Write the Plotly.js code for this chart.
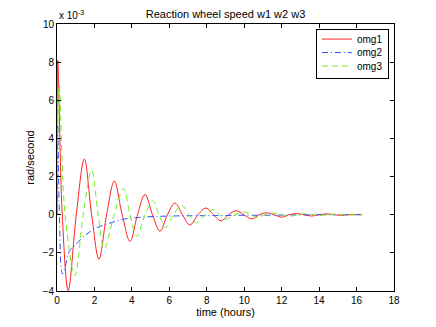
<!DOCTYPE html>
<html>
<head>
<meta charset="utf-8">
<script src="https://cdn.plot.ly/plotly-3.0.1.min.js"></script>
<style>
  html, body { margin: 0; padding: 0; background: #fff; }
  #plot { width: 436px; height: 327px; }
</style>
</head>
<body>
<div id="plot"></div>
<script>
// values, y in units of 1e-3 rad/s
var t1 = [0, 0.04, 0.28, 0.6, 1.03, 1.46, 1.85, 2.24, 2.65, 3.06, 3.48, 3.9, 4.3, 4.7,
  5.1, 5.5, 5.9, 6.3, 6.7, 7.1, 7.53, 7.96, 8.36, 8.76, 9.16, 9.56, 9.98, 10.4,
  10.8, 11.2, 11.6, 12.0, 12.4, 12.8, 13.2, 13.6, 14.0, 14.4, 14.8, 15.2, 15.6, 16.0, 16.3];
var omg1 = [0, 8.1, 0, -3.98, 0, 2.92, 0, -2.33, 0, 1.76, 0, -1.4, 0, 1.06,
  0, -0.86, 0, 0.61, 0, -0.54, 0, 0.35, 0, -0.32, 0, 0.21, 0, -0.22,
  0, 0.1, 0, -0.13, 0, 0.06, 0, -0.07, 0, 0.04, 0, -0.03, 0, 0.01, 0];

var t2 = [0, 0.04, 0.13, 0.3, 0.69, 0.96, 1.5, 2.03, 2.74, 3.54, 4.7, 6.0, 8.0, 10.0, 12.0, 14.0, 16.3];
var omg2 = [0, 4.7, 0, -3.1, -1.87, -1.61, -1.08, -0.73, -0.47, -0.24, -0.12, -0.07, -0.05, -0.03, -0.02, 0, 0];

var t3 = [0, 0.12, 0.43, 0.96, 1.4, 1.85, 2.2, 2.53, 3.05, 3.55, 3.9, 4.26, 4.7, 5.12,
  5.45, 5.8, 6.22, 6.66, 7.05, 7.46, 7.9, 8.35, 8.67, 8.98, 9.5, 10.04, 10.36, 10.7,
  11.1, 11.55, 12.0, 12.45, 12.85, 13.25, 13.65, 14.05, 14.5, 14.9, 15.3, 15.7, 16.3];
var omg3 = [0, 6.8, 0, -3.19, 0, 2.34, 0, -1.78, 0, 1.37, 0, -1.13, 0, 0.72,
  0, -0.68, 0, 0.49, 0, -0.42, 0, 0.27, 0, -0.24, 0, 0.14, 0, -0.16,
  0, 0.09, 0, -0.08, 0, 0.05, 0, -0.04, 0, 0.03, 0, -0.01, 0];

var xTicks = [0, 2, 4, 6, 8, 10, 12, 14, 16, 18];
var yTicks = [-4, -2, 0, 2, 4, 6, 8, 10];

var font = "Liberation Sans, Arial, Helvetica, sans-serif";

var data = [
  { x: t1, y: omg1, name: "omg1", mode: "lines",
    line: { color: "#ff2020", width: 1, shape: "spline" } },
  { x: t2, y: omg2, name: "omg2", mode: "lines",
    line: { color: "#3050ff", width: 1, shape: "spline", dash: "6px,3px,1px,3px" } },
  { x: t3, y: omg3, name: "omg3", mode: "lines",
    line: { color: "#70f020", width: 1, shape: "spline", dash: "6px,4px" } }
];

var axisStyle = {
  showline: true, linecolor: "#000", linewidth: 1, mirror: "allticks",
  ticks: "inside", ticklen: 4, tickcolor: "#000", showgrid: false, zeroline: false,
  tickfont: { family: font, size: 10, color: "#000" }
};

var layout = {
  width: 436, height: 327,
  margin: { l: 57, r: 42, t: 24, b: 36 },
  paper_bgcolor: "#fff", plot_bgcolor: "#fff",
  font: { family: font, size: 10, color: "#000" },
  title: { text: "Reaction wheel speed w1 w2 w3", font: { family: font, size: 11, color: "#000" },
    x: 0.5, xref: "paper", y: 0.957, yanchor: "middle" },
  xaxis: Object.assign({}, axisStyle, {
    range: [0, 18], tickvals: xTicks,
    title: { text: "time (hours)", font: { family: font, size: 11 }, standoff: 3 }
  }),
  yaxis: Object.assign({}, axisStyle, {
    range: [-4, 10], tickvals: yTicks,
    title: { text: "rad/second", font: { family: font, size: 11 }, standoff: 5 }
  }),
  legend: {
    x: 0.985, y: 0.981, xanchor: "right", yanchor: "top",
    bgcolor: "#fff", bordercolor: "#000", borderwidth: 1,
    font: { family: font, size: 10 }, itemwidth: 30, tracegroupgap: 0
  },
  annotations: [{
    text: "x 10<sup>-3</sup>", xref: "paper", yref: "paper", x: 0, y: 1,
    xanchor: "left", yanchor: "bottom", showarrow: false, yshift: 1,
    font: { family: font, size: 10, color: "#000" }
  }],
  showlegend: true
};

Plotly.newPlot("plot", data, layout, { displayModeBar: false, staticPlot: true })
  .then(function (gd) {
    // tighten legend rows to the reference spacing
    var rows = gd.querySelectorAll(".legend .traces");
    var rowH = 13.5;
    rows.forEach(function (g, i) {
      var m = /translate\(([^,]+),\s*([^)]+)\)/.exec(g.getAttribute("transform"));
      if (m) g.setAttribute("transform", "translate(" + m[1] + "," + (10 + rowH * i) + ")");
    });
    var bg = gd.querySelector(".legend .bg");
    if (bg) bg.setAttribute("height", 20 + rowH * (rows.length - 1) + 2);
  });
</script>
</body>
</html>
